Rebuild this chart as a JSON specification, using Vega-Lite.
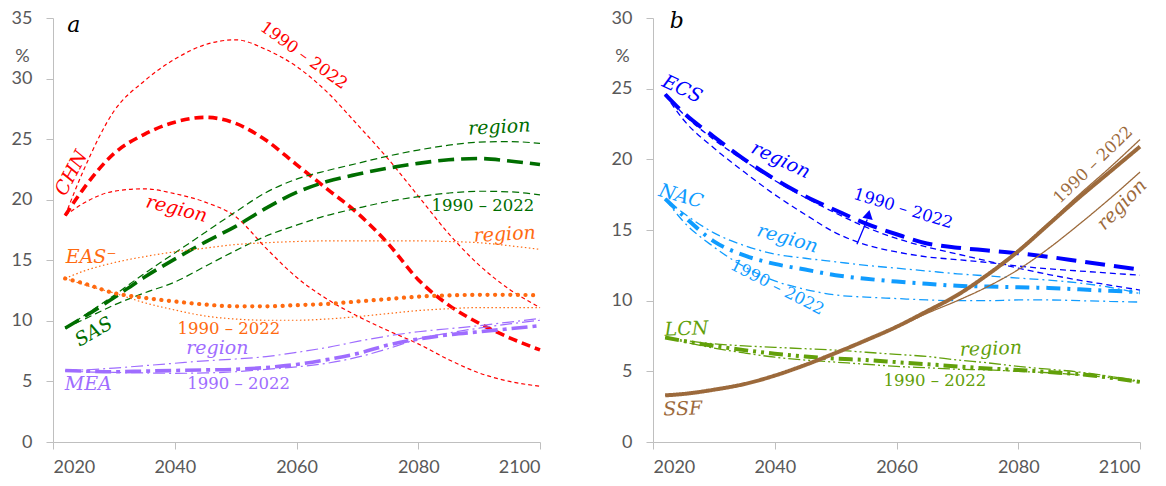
{
"$schema": "https://vega.github.io/schema/vega-lite/v6.json",
"padding": {"left": 11, "top": 9, "right": 0, "bottom": 0},
"bounds": "flush",
"spacing": 113,
"background": "white",
"config": {
  "view": {"stroke": null},
  "axis": {"domainColor": "#bfbfbf", "tickColor": "#bfbfbf", "tickSize": 7, "labelColor": "#595959", "labelFont": "Lato", "labelFontSize": 18, "grid": false, "titleFont": "Lato", "titleFontSize": 18, "titleFontWeight": "normal", "titleColor": "#595959"},
  "axisX": {"labelPadding": 9},
  "axisY": {"labelPadding": 14}
},
"resolve": {"scale": {"color": "independent", "strokeDash": "independent", "strokeWidth": "independent", "x": "independent", "y": "independent"}},
"datasets": {
"A": [
{"r":"CHN","v":"main","s":"CHN main","x":2022,"y":18.7},{"r":"CHN","v":"main","s":"CHN main","x":2025,"y":20.9},{"r":"CHN","v":"main","s":"CHN main","x":2030,"y":23.8},{"r":"CHN","v":"main","s":"CHN main","x":2035,"y":25.4},{"r":"CHN","v":"main","s":"CHN main","x":2040,"y":26.4},{"r":"CHN","v":"main","s":"CHN main","x":2045,"y":26.8},{"r":"CHN","v":"main","s":"CHN main","x":2050,"y":26.3},{"r":"CHN","v":"main","s":"CHN main","x":2055,"y":24.9},{"r":"CHN","v":"main","s":"CHN main","x":2060,"y":22.9},{"r":"CHN","v":"main","s":"CHN main","x":2065,"y":20.9},{"r":"CHN","v":"main","s":"CHN main","x":2070,"y":18.9},{"r":"CHN","v":"main","s":"CHN main","x":2075,"y":16.4},{"r":"CHN","v":"main","s":"CHN main","x":2080,"y":13.4},{"r":"CHN","v":"main","s":"CHN main","x":2085,"y":11.3},{"r":"CHN","v":"main","s":"CHN main","x":2090,"y":9.8},{"r":"CHN","v":"main","s":"CHN main","x":2095,"y":8.6},{"r":"CHN","v":"main","s":"CHN main","x":2100,"y":7.6},
{"r":"CHN","v":"region","s":"CHN region","x":2022,"y":18.7},{"r":"CHN","v":"region","s":"CHN region","x":2025,"y":19.7},{"r":"CHN","v":"region","s":"CHN region","x":2030,"y":20.7},{"r":"CHN","v":"region","s":"CHN region","x":2035,"y":20.9},{"r":"CHN","v":"region","s":"CHN region","x":2040,"y":20.5},{"r":"CHN","v":"region","s":"CHN region","x":2045,"y":19.8},{"r":"CHN","v":"region","s":"CHN region","x":2050,"y":18.6},{"r":"CHN","v":"region","s":"CHN region","x":2055,"y":16.0},{"r":"CHN","v":"region","s":"CHN region","x":2060,"y":13.6},{"r":"CHN","v":"region","s":"CHN region","x":2065,"y":11.8},{"r":"CHN","v":"region","s":"CHN region","x":2070,"y":10.4},{"r":"CHN","v":"region","s":"CHN region","x":2075,"y":9.2},{"r":"CHN","v":"region","s":"CHN region","x":2080,"y":8.1},{"r":"CHN","v":"region","s":"CHN region","x":2085,"y":6.8},{"r":"CHN","v":"region","s":"CHN region","x":2090,"y":5.7},{"r":"CHN","v":"region","s":"CHN region","x":2095,"y":5.0},{"r":"CHN","v":"region","s":"CHN region","x":2100,"y":4.6},
{"r":"CHN","v":"hist","s":"CHN hist","x":2022,"y":18.7},{"r":"CHN","v":"hist","s":"CHN hist","x":2025,"y":22.4},{"r":"CHN","v":"hist","s":"CHN hist","x":2030,"y":27.3},{"r":"CHN","v":"hist","s":"CHN hist","x":2035,"y":29.8},{"r":"CHN","v":"hist","s":"CHN hist","x":2040,"y":31.6},{"r":"CHN","v":"hist","s":"CHN hist","x":2045,"y":32.8},{"r":"CHN","v":"hist","s":"CHN hist","x":2050,"y":33.2},{"r":"CHN","v":"hist","s":"CHN hist","x":2055,"y":32.4},{"r":"CHN","v":"hist","s":"CHN hist","x":2060,"y":31.0},{"r":"CHN","v":"hist","s":"CHN hist","x":2065,"y":28.9},{"r":"CHN","v":"hist","s":"CHN hist","x":2070,"y":26.2},{"r":"CHN","v":"hist","s":"CHN hist","x":2075,"y":23.4},{"r":"CHN","v":"hist","s":"CHN hist","x":2080,"y":20.3},{"r":"CHN","v":"hist","s":"CHN hist","x":2085,"y":17.2},{"r":"CHN","v":"hist","s":"CHN hist","x":2090,"y":14.6},{"r":"CHN","v":"hist","s":"CHN hist","x":2095,"y":12.6},{"r":"CHN","v":"hist","s":"CHN hist","x":2100,"y":11.1},
{"r":"SAS","v":"main","s":"SAS main","x":2022,"y":9.4},{"r":"SAS","v":"main","s":"SAS main","x":2025,"y":10.3},{"r":"SAS","v":"main","s":"SAS main","x":2030,"y":11.9},{"r":"SAS","v":"main","s":"SAS main","x":2035,"y":13.6},{"r":"SAS","v":"main","s":"SAS main","x":2040,"y":15.1},{"r":"SAS","v":"main","s":"SAS main","x":2045,"y":16.5},{"r":"SAS","v":"main","s":"SAS main","x":2050,"y":17.8},{"r":"SAS","v":"main","s":"SAS main","x":2055,"y":19.3},{"r":"SAS","v":"main","s":"SAS main","x":2060,"y":20.6},{"r":"SAS","v":"main","s":"SAS main","x":2065,"y":21.5},{"r":"SAS","v":"main","s":"SAS main","x":2070,"y":22.1},{"r":"SAS","v":"main","s":"SAS main","x":2075,"y":22.6},{"r":"SAS","v":"main","s":"SAS main","x":2080,"y":23.0},{"r":"SAS","v":"main","s":"SAS main","x":2085,"y":23.3},{"r":"SAS","v":"main","s":"SAS main","x":2090,"y":23.4},{"r":"SAS","v":"main","s":"SAS main","x":2095,"y":23.2},{"r":"SAS","v":"main","s":"SAS main","x":2100,"y":22.9},
{"r":"SAS","v":"region","s":"SAS region","x":2022,"y":9.4},{"r":"SAS","v":"region","s":"SAS region","x":2025,"y":10.4},{"r":"SAS","v":"region","s":"SAS region","x":2030,"y":12.1},{"r":"SAS","v":"region","s":"SAS region","x":2035,"y":13.9},{"r":"SAS","v":"region","s":"SAS region","x":2040,"y":15.6},{"r":"SAS","v":"region","s":"SAS region","x":2045,"y":17.3},{"r":"SAS","v":"region","s":"SAS region","x":2050,"y":19.0},{"r":"SAS","v":"region","s":"SAS region","x":2055,"y":20.6},{"r":"SAS","v":"region","s":"SAS region","x":2060,"y":21.7},{"r":"SAS","v":"region","s":"SAS region","x":2065,"y":22.4},{"r":"SAS","v":"region","s":"SAS region","x":2070,"y":23.0},{"r":"SAS","v":"region","s":"SAS region","x":2075,"y":23.6},{"r":"SAS","v":"region","s":"SAS region","x":2080,"y":24.1},{"r":"SAS","v":"region","s":"SAS region","x":2085,"y":24.5},{"r":"SAS","v":"region","s":"SAS region","x":2090,"y":24.75},{"r":"SAS","v":"region","s":"SAS region","x":2095,"y":24.8},{"r":"SAS","v":"region","s":"SAS region","x":2100,"y":24.65},
{"r":"SAS","v":"hist","s":"SAS hist","x":2022,"y":9.4},{"r":"SAS","v":"hist","s":"SAS hist","x":2025,"y":10.1},{"r":"SAS","v":"hist","s":"SAS hist","x":2030,"y":11.3},{"r":"SAS","v":"hist","s":"SAS hist","x":2035,"y":12.3},{"r":"SAS","v":"hist","s":"SAS hist","x":2040,"y":13.2},{"r":"SAS","v":"hist","s":"SAS hist","x":2045,"y":14.5},{"r":"SAS","v":"hist","s":"SAS hist","x":2050,"y":15.8},{"r":"SAS","v":"hist","s":"SAS hist","x":2055,"y":17.0},{"r":"SAS","v":"hist","s":"SAS hist","x":2060,"y":17.9},{"r":"SAS","v":"hist","s":"SAS hist","x":2065,"y":18.7},{"r":"SAS","v":"hist","s":"SAS hist","x":2070,"y":19.3},{"r":"SAS","v":"hist","s":"SAS hist","x":2075,"y":19.85},{"r":"SAS","v":"hist","s":"SAS hist","x":2080,"y":20.25},{"r":"SAS","v":"hist","s":"SAS hist","x":2085,"y":20.55},{"r":"SAS","v":"hist","s":"SAS hist","x":2090,"y":20.7},{"r":"SAS","v":"hist","s":"SAS hist","x":2095,"y":20.65},{"r":"SAS","v":"hist","s":"SAS hist","x":2100,"y":20.4},
{"r":"EAS","v":"main","s":"EAS main","x":2022,"y":13.5},{"r":"EAS","v":"main","s":"EAS main","x":2025,"y":13.1},{"r":"EAS","v":"main","s":"EAS main","x":2030,"y":12.3},{"r":"EAS","v":"main","s":"EAS main","x":2035,"y":11.9},{"r":"EAS","v":"main","s":"EAS main","x":2040,"y":11.6},{"r":"EAS","v":"main","s":"EAS main","x":2045,"y":11.35},{"r":"EAS","v":"main","s":"EAS main","x":2050,"y":11.2},{"r":"EAS","v":"main","s":"EAS main","x":2055,"y":11.2},{"r":"EAS","v":"main","s":"EAS main","x":2060,"y":11.3},{"r":"EAS","v":"main","s":"EAS main","x":2065,"y":11.4},{"r":"EAS","v":"main","s":"EAS main","x":2070,"y":11.6},{"r":"EAS","v":"main","s":"EAS main","x":2075,"y":11.8},{"r":"EAS","v":"main","s":"EAS main","x":2080,"y":12.0},{"r":"EAS","v":"main","s":"EAS main","x":2085,"y":12.1},{"r":"EAS","v":"main","s":"EAS main","x":2090,"y":12.15},{"r":"EAS","v":"main","s":"EAS main","x":2095,"y":12.15},{"r":"EAS","v":"main","s":"EAS main","x":2100,"y":12.1},
{"r":"EAS","v":"region","s":"EAS region","x":2022,"y":13.5},{"r":"EAS","v":"region","s":"EAS region","x":2025,"y":14.1},{"r":"EAS","v":"region","s":"EAS region","x":2030,"y":14.8},{"r":"EAS","v":"region","s":"EAS region","x":2035,"y":15.3},{"r":"EAS","v":"region","s":"EAS region","x":2040,"y":15.7},{"r":"EAS","v":"region","s":"EAS region","x":2045,"y":16.0},{"r":"EAS","v":"region","s":"EAS region","x":2050,"y":16.3},{"r":"EAS","v":"region","s":"EAS region","x":2055,"y":16.45},{"r":"EAS","v":"region","s":"EAS region","x":2060,"y":16.55},{"r":"EAS","v":"region","s":"EAS region","x":2065,"y":16.6},{"r":"EAS","v":"region","s":"EAS region","x":2070,"y":16.6},{"r":"EAS","v":"region","s":"EAS region","x":2075,"y":16.6},{"r":"EAS","v":"region","s":"EAS region","x":2080,"y":16.6},{"r":"EAS","v":"region","s":"EAS region","x":2085,"y":16.55},{"r":"EAS","v":"region","s":"EAS region","x":2090,"y":16.45},{"r":"EAS","v":"region","s":"EAS region","x":2095,"y":16.2},{"r":"EAS","v":"region","s":"EAS region","x":2100,"y":15.9},
{"r":"EAS","v":"hist","s":"EAS hist","x":2022,"y":13.5},{"r":"EAS","v":"hist","s":"EAS hist","x":2025,"y":13.0},{"r":"EAS","v":"hist","s":"EAS hist","x":2030,"y":12.3},{"r":"EAS","v":"hist","s":"EAS hist","x":2035,"y":11.5},{"r":"EAS","v":"hist","s":"EAS hist","x":2040,"y":10.9},{"r":"EAS","v":"hist","s":"EAS hist","x":2045,"y":10.4},{"r":"EAS","v":"hist","s":"EAS hist","x":2050,"y":10.15},{"r":"EAS","v":"hist","s":"EAS hist","x":2055,"y":10.05},{"r":"EAS","v":"hist","s":"EAS hist","x":2060,"y":10.05},{"r":"EAS","v":"hist","s":"EAS hist","x":2065,"y":10.15},{"r":"EAS","v":"hist","s":"EAS hist","x":2070,"y":10.35},{"r":"EAS","v":"hist","s":"EAS hist","x":2075,"y":10.6},{"r":"EAS","v":"hist","s":"EAS hist","x":2080,"y":10.85},{"r":"EAS","v":"hist","s":"EAS hist","x":2085,"y":11.0},{"r":"EAS","v":"hist","s":"EAS hist","x":2090,"y":11.1},{"r":"EAS","v":"hist","s":"EAS hist","x":2095,"y":11.1},{"r":"EAS","v":"hist","s":"EAS hist","x":2100,"y":11.1},
{"r":"MEA","v":"main","s":"MEA main","x":2022,"y":5.9},{"r":"MEA","v":"main","s":"MEA main","x":2025,"y":5.85},{"r":"MEA","v":"main","s":"MEA main","x":2030,"y":5.8},{"r":"MEA","v":"main","s":"MEA main","x":2035,"y":5.85},{"r":"MEA","v":"main","s":"MEA main","x":2040,"y":5.9},{"r":"MEA","v":"main","s":"MEA main","x":2045,"y":5.95},{"r":"MEA","v":"main","s":"MEA main","x":2050,"y":6.0},{"r":"MEA","v":"main","s":"MEA main","x":2055,"y":6.15},{"r":"MEA","v":"main","s":"MEA main","x":2060,"y":6.4},{"r":"MEA","v":"main","s":"MEA main","x":2065,"y":6.8},{"r":"MEA","v":"main","s":"MEA main","x":2070,"y":7.3},{"r":"MEA","v":"main","s":"MEA main","x":2075,"y":8.0},{"r":"MEA","v":"main","s":"MEA main","x":2080,"y":8.5},{"r":"MEA","v":"main","s":"MEA main","x":2085,"y":8.85},{"r":"MEA","v":"main","s":"MEA main","x":2090,"y":9.1},{"r":"MEA","v":"main","s":"MEA main","x":2095,"y":9.35},{"r":"MEA","v":"main","s":"MEA main","x":2100,"y":9.6},
{"r":"MEA","v":"region","s":"MEA region","x":2022,"y":5.9},{"r":"MEA","v":"region","s":"MEA region","x":2025,"y":5.95},{"r":"MEA","v":"region","s":"MEA region","x":2030,"y":6.1},{"r":"MEA","v":"region","s":"MEA region","x":2035,"y":6.3},{"r":"MEA","v":"region","s":"MEA region","x":2040,"y":6.5},{"r":"MEA","v":"region","s":"MEA region","x":2045,"y":6.7},{"r":"MEA","v":"region","s":"MEA region","x":2050,"y":6.85},{"r":"MEA","v":"region","s":"MEA region","x":2055,"y":7.05},{"r":"MEA","v":"region","s":"MEA region","x":2060,"y":7.4},{"r":"MEA","v":"region","s":"MEA region","x":2065,"y":7.8},{"r":"MEA","v":"region","s":"MEA region","x":2070,"y":8.3},{"r":"MEA","v":"region","s":"MEA region","x":2075,"y":8.75},{"r":"MEA","v":"region","s":"MEA region","x":2080,"y":9.1},{"r":"MEA","v":"region","s":"MEA region","x":2085,"y":9.35},{"r":"MEA","v":"region","s":"MEA region","x":2090,"y":9.6},{"r":"MEA","v":"region","s":"MEA region","x":2095,"y":9.9},{"r":"MEA","v":"region","s":"MEA region","x":2100,"y":10.2},
{"r":"MEA","v":"hist","s":"MEA hist","x":2022,"y":5.9},{"r":"MEA","v":"hist","s":"MEA hist","x":2025,"y":5.8},{"r":"MEA","v":"hist","s":"MEA hist","x":2030,"y":5.75},{"r":"MEA","v":"hist","s":"MEA hist","x":2035,"y":5.7},{"r":"MEA","v":"hist","s":"MEA hist","x":2040,"y":5.67},{"r":"MEA","v":"hist","s":"MEA hist","x":2045,"y":5.7},{"r":"MEA","v":"hist","s":"MEA hist","x":2050,"y":5.8},{"r":"MEA","v":"hist","s":"MEA hist","x":2055,"y":6.0},{"r":"MEA","v":"hist","s":"MEA hist","x":2060,"y":6.2},{"r":"MEA","v":"hist","s":"MEA hist","x":2065,"y":6.5},{"r":"MEA","v":"hist","s":"MEA hist","x":2070,"y":7.0},{"r":"MEA","v":"hist","s":"MEA hist","x":2075,"y":7.7},{"r":"MEA","v":"hist","s":"MEA hist","x":2080,"y":8.5},{"r":"MEA","v":"hist","s":"MEA hist","x":2085,"y":9.0},{"r":"MEA","v":"hist","s":"MEA hist","x":2090,"y":9.4},{"r":"MEA","v":"hist","s":"MEA hist","x":2095,"y":9.75},{"r":"MEA","v":"hist","s":"MEA hist","x":2100,"y":10.05}
],
"B": [
{"r":"ECS","v":"main","s":"ECS main","x":2022,"y":24.6},{"r":"ECS","v":"main","s":"ECS main","x":2025,"y":23.3},{"r":"ECS","v":"main","s":"ECS main","x":2030,"y":21.6},{"r":"ECS","v":"main","s":"ECS main","x":2035,"y":20.0},{"r":"ECS","v":"main","s":"ECS main","x":2040,"y":18.6},{"r":"ECS","v":"main","s":"ECS main","x":2045,"y":17.4},{"r":"ECS","v":"main","s":"ECS main","x":2050,"y":16.4},{"r":"ECS","v":"main","s":"ECS main","x":2055,"y":15.45},{"r":"ECS","v":"main","s":"ECS main","x":2060,"y":14.7},{"r":"ECS","v":"main","s":"ECS main","x":2065,"y":14.05},{"r":"ECS","v":"main","s":"ECS main","x":2070,"y":13.75},{"r":"ECS","v":"main","s":"ECS main","x":2075,"y":13.55},{"r":"ECS","v":"main","s":"ECS main","x":2080,"y":13.35},{"r":"ECS","v":"main","s":"ECS main","x":2085,"y":13.1},{"r":"ECS","v":"main","s":"ECS main","x":2090,"y":12.8},{"r":"ECS","v":"main","s":"ECS main","x":2095,"y":12.5},{"r":"ECS","v":"main","s":"ECS main","x":2100,"y":12.2},
{"r":"ECS","v":"region","s":"ECS region","x":2022,"y":24.6},{"r":"ECS","v":"region","s":"ECS region","x":2025,"y":23.2},{"r":"ECS","v":"region","s":"ECS region","x":2030,"y":21.4},{"r":"ECS","v":"region","s":"ECS region","x":2035,"y":19.9},{"r":"ECS","v":"region","s":"ECS region","x":2040,"y":18.5},{"r":"ECS","v":"region","s":"ECS region","x":2045,"y":17.3},{"r":"ECS","v":"region","s":"ECS region","x":2050,"y":16.2},{"r":"ECS","v":"region","s":"ECS region","x":2055,"y":15.2},{"r":"ECS","v":"region","s":"ECS region","x":2060,"y":14.4},{"r":"ECS","v":"region","s":"ECS region","x":2065,"y":13.8},{"r":"ECS","v":"region","s":"ECS region","x":2070,"y":13.3},{"r":"ECS","v":"region","s":"ECS region","x":2075,"y":12.8},{"r":"ECS","v":"region","s":"ECS region","x":2080,"y":12.3},{"r":"ECS","v":"region","s":"ECS region","x":2085,"y":11.85},{"r":"ECS","v":"region","s":"ECS region","x":2090,"y":11.45},{"r":"ECS","v":"region","s":"ECS region","x":2095,"y":11.1},{"r":"ECS","v":"region","s":"ECS region","x":2100,"y":10.75},
{"r":"ECS","v":"hist","s":"ECS hist","x":2022,"y":24.6},{"r":"ECS","v":"hist","s":"ECS hist","x":2025,"y":22.8},{"r":"ECS","v":"hist","s":"ECS hist","x":2030,"y":20.8},{"r":"ECS","v":"hist","s":"ECS hist","x":2035,"y":19.1},{"r":"ECS","v":"hist","s":"ECS hist","x":2040,"y":17.5},{"r":"ECS","v":"hist","s":"ECS hist","x":2045,"y":16.1},{"r":"ECS","v":"hist","s":"ECS hist","x":2050,"y":14.8},{"r":"ECS","v":"hist","s":"ECS hist","x":2055,"y":13.95},{"r":"ECS","v":"hist","s":"ECS hist","x":2060,"y":13.45},{"r":"ECS","v":"hist","s":"ECS hist","x":2065,"y":13.1},{"r":"ECS","v":"hist","s":"ECS hist","x":2070,"y":12.9},{"r":"ECS","v":"hist","s":"ECS hist","x":2075,"y":12.7},{"r":"ECS","v":"hist","s":"ECS hist","x":2080,"y":12.45},{"r":"ECS","v":"hist","s":"ECS hist","x":2085,"y":12.25},{"r":"ECS","v":"hist","s":"ECS hist","x":2090,"y":12.1},{"r":"ECS","v":"hist","s":"ECS hist","x":2095,"y":11.95},{"r":"ECS","v":"hist","s":"ECS hist","x":2100,"y":11.8},
{"r":"NAC","v":"main","s":"NAC main","x":2022,"y":17.2},{"r":"NAC","v":"main","s":"NAC main","x":2025,"y":16.0},{"r":"NAC","v":"main","s":"NAC main","x":2030,"y":14.2},{"r":"NAC","v":"main","s":"NAC main","x":2035,"y":13.2},{"r":"NAC","v":"main","s":"NAC main","x":2040,"y":12.6},{"r":"NAC","v":"main","s":"NAC main","x":2045,"y":12.2},{"r":"NAC","v":"main","s":"NAC main","x":2050,"y":11.8},{"r":"NAC","v":"main","s":"NAC main","x":2055,"y":11.55},{"r":"NAC","v":"main","s":"NAC main","x":2060,"y":11.35},{"r":"NAC","v":"main","s":"NAC main","x":2065,"y":11.2},{"r":"NAC","v":"main","s":"NAC main","x":2070,"y":11.05},{"r":"NAC","v":"main","s":"NAC main","x":2075,"y":11.0},{"r":"NAC","v":"main","s":"NAC main","x":2080,"y":10.95},{"r":"NAC","v":"main","s":"NAC main","x":2085,"y":10.9},{"r":"NAC","v":"main","s":"NAC main","x":2090,"y":10.8},{"r":"NAC","v":"main","s":"NAC main","x":2095,"y":10.7},{"r":"NAC","v":"main","s":"NAC main","x":2100,"y":10.6},
{"r":"NAC","v":"region","s":"NAC region","x":2022,"y":17.2},{"r":"NAC","v":"region","s":"NAC region","x":2025,"y":16.2},{"r":"NAC","v":"region","s":"NAC region","x":2030,"y":14.8},{"r":"NAC","v":"region","s":"NAC region","x":2035,"y":13.9},{"r":"NAC","v":"region","s":"NAC region","x":2040,"y":13.3},{"r":"NAC","v":"region","s":"NAC region","x":2045,"y":13.0},{"r":"NAC","v":"region","s":"NAC region","x":2050,"y":12.75},{"r":"NAC","v":"region","s":"NAC region","x":2055,"y":12.5},{"r":"NAC","v":"region","s":"NAC region","x":2060,"y":12.3},{"r":"NAC","v":"region","s":"NAC region","x":2065,"y":12.1},{"r":"NAC","v":"region","s":"NAC region","x":2070,"y":11.9},{"r":"NAC","v":"region","s":"NAC region","x":2075,"y":11.75},{"r":"NAC","v":"region","s":"NAC region","x":2080,"y":11.6},{"r":"NAC","v":"region","s":"NAC region","x":2085,"y":11.45},{"r":"NAC","v":"region","s":"NAC region","x":2090,"y":11.25},{"r":"NAC","v":"region","s":"NAC region","x":2095,"y":10.95},{"r":"NAC","v":"region","s":"NAC region","x":2100,"y":10.5},
{"r":"NAC","v":"hist","s":"NAC hist","x":2022,"y":17.2},{"r":"NAC","v":"hist","s":"NAC hist","x":2025,"y":15.6},{"r":"NAC","v":"hist","s":"NAC hist","x":2030,"y":13.8},{"r":"NAC","v":"hist","s":"NAC hist","x":2035,"y":12.4},{"r":"NAC","v":"hist","s":"NAC hist","x":2040,"y":11.4},{"r":"NAC","v":"hist","s":"NAC hist","x":2045,"y":10.8},{"r":"NAC","v":"hist","s":"NAC hist","x":2050,"y":10.4},{"r":"NAC","v":"hist","s":"NAC hist","x":2055,"y":10.25},{"r":"NAC","v":"hist","s":"NAC hist","x":2060,"y":10.15},{"r":"NAC","v":"hist","s":"NAC hist","x":2065,"y":10.05},{"r":"NAC","v":"hist","s":"NAC hist","x":2070,"y":10.0},{"r":"NAC","v":"hist","s":"NAC hist","x":2075,"y":10.0},{"r":"NAC","v":"hist","s":"NAC hist","x":2080,"y":10.05},{"r":"NAC","v":"hist","s":"NAC hist","x":2085,"y":10.05},{"r":"NAC","v":"hist","s":"NAC hist","x":2090,"y":10.0},{"r":"NAC","v":"hist","s":"NAC hist","x":2095,"y":9.95},{"r":"NAC","v":"hist","s":"NAC hist","x":2100,"y":9.9},
{"r":"LCN","v":"main","s":"LCN main","x":2022,"y":7.4},{"r":"LCN","v":"main","s":"LCN main","x":2025,"y":7.15},{"r":"LCN","v":"main","s":"LCN main","x":2030,"y":6.8},{"r":"LCN","v":"main","s":"LCN main","x":2035,"y":6.5},{"r":"LCN","v":"main","s":"LCN main","x":2040,"y":6.25},{"r":"LCN","v":"main","s":"LCN main","x":2045,"y":6.05},{"r":"LCN","v":"main","s":"LCN main","x":2050,"y":5.9},{"r":"LCN","v":"main","s":"LCN main","x":2055,"y":5.8},{"r":"LCN","v":"main","s":"LCN main","x":2060,"y":5.65},{"r":"LCN","v":"main","s":"LCN main","x":2065,"y":5.5},{"r":"LCN","v":"main","s":"LCN main","x":2070,"y":5.35},{"r":"LCN","v":"main","s":"LCN main","x":2075,"y":5.2},{"r":"LCN","v":"main","s":"LCN main","x":2080,"y":5.1},{"r":"LCN","v":"main","s":"LCN main","x":2085,"y":4.95},{"r":"LCN","v":"main","s":"LCN main","x":2090,"y":4.8},{"r":"LCN","v":"main","s":"LCN main","x":2095,"y":4.55},{"r":"LCN","v":"main","s":"LCN main","x":2100,"y":4.25},
{"r":"LCN","v":"region","s":"LCN region","x":2022,"y":7.4},{"r":"LCN","v":"region","s":"LCN region","x":2025,"y":7.2},{"r":"LCN","v":"region","s":"LCN region","x":2030,"y":6.95},{"r":"LCN","v":"region","s":"LCN region","x":2035,"y":6.8},{"r":"LCN","v":"region","s":"LCN region","x":2040,"y":6.7},{"r":"LCN","v":"region","s":"LCN region","x":2045,"y":6.6},{"r":"LCN","v":"region","s":"LCN region","x":2050,"y":6.5},{"r":"LCN","v":"region","s":"LCN region","x":2055,"y":6.35},{"r":"LCN","v":"region","s":"LCN region","x":2060,"y":6.2},{"r":"LCN","v":"region","s":"LCN region","x":2065,"y":6.05},{"r":"LCN","v":"region","s":"LCN region","x":2070,"y":5.8},{"r":"LCN","v":"region","s":"LCN region","x":2075,"y":5.6},{"r":"LCN","v":"region","s":"LCN region","x":2080,"y":5.35},{"r":"LCN","v":"region","s":"LCN region","x":2085,"y":5.15},{"r":"LCN","v":"region","s":"LCN region","x":2090,"y":4.95},{"r":"LCN","v":"region","s":"LCN region","x":2095,"y":4.65},{"r":"LCN","v":"region","s":"LCN region","x":2100,"y":4.3},
{"r":"LCN","v":"hist","s":"LCN hist","x":2022,"y":7.4},{"r":"LCN","v":"hist","s":"LCN hist","x":2025,"y":7.1},{"r":"LCN","v":"hist","s":"LCN hist","x":2030,"y":6.65},{"r":"LCN","v":"hist","s":"LCN hist","x":2035,"y":6.3},{"r":"LCN","v":"hist","s":"LCN hist","x":2040,"y":6.0},{"r":"LCN","v":"hist","s":"LCN hist","x":2045,"y":5.8},{"r":"LCN","v":"hist","s":"LCN hist","x":2050,"y":5.65},{"r":"LCN","v":"hist","s":"LCN hist","x":2055,"y":5.5},{"r":"LCN","v":"hist","s":"LCN hist","x":2060,"y":5.35},{"r":"LCN","v":"hist","s":"LCN hist","x":2065,"y":5.25},{"r":"LCN","v":"hist","s":"LCN hist","x":2070,"y":5.15},{"r":"LCN","v":"hist","s":"LCN hist","x":2075,"y":5.1},{"r":"LCN","v":"hist","s":"LCN hist","x":2080,"y":5.0},{"r":"LCN","v":"hist","s":"LCN hist","x":2085,"y":4.9},{"r":"LCN","v":"hist","s":"LCN hist","x":2090,"y":4.75},{"r":"LCN","v":"hist","s":"LCN hist","x":2095,"y":4.55},{"r":"LCN","v":"hist","s":"LCN hist","x":2100,"y":4.25},
{"r":"SSF","v":"main","s":"SSF main","x":2022,"y":3.3},{"r":"SSF","v":"main","s":"SSF main","x":2025,"y":3.4},{"r":"SSF","v":"main","s":"SSF main","x":2030,"y":3.7},{"r":"SSF","v":"main","s":"SSF main","x":2035,"y":4.1},{"r":"SSF","v":"main","s":"SSF main","x":2040,"y":4.7},{"r":"SSF","v":"main","s":"SSF main","x":2045,"y":5.45},{"r":"SSF","v":"main","s":"SSF main","x":2050,"y":6.3},{"r":"SSF","v":"main","s":"SSF main","x":2055,"y":7.2},{"r":"SSF","v":"main","s":"SSF main","x":2060,"y":8.15},{"r":"SSF","v":"main","s":"SSF main","x":2065,"y":9.25},{"r":"SSF","v":"main","s":"SSF main","x":2070,"y":10.4},{"r":"SSF","v":"main","s":"SSF main","x":2075,"y":11.85},{"r":"SSF","v":"main","s":"SSF main","x":2080,"y":13.5},{"r":"SSF","v":"main","s":"SSF main","x":2085,"y":15.4},{"r":"SSF","v":"main","s":"SSF main","x":2090,"y":17.3},{"r":"SSF","v":"main","s":"SSF main","x":2095,"y":19.1},{"r":"SSF","v":"main","s":"SSF main","x":2100,"y":20.9},
{"r":"SSF","v":"region","s":"SSF region","x":2022,"y":3.3},{"r":"SSF","v":"region","s":"SSF region","x":2025,"y":3.4},{"r":"SSF","v":"region","s":"SSF region","x":2030,"y":3.7},{"r":"SSF","v":"region","s":"SSF region","x":2035,"y":4.1},{"r":"SSF","v":"region","s":"SSF region","x":2040,"y":4.7},{"r":"SSF","v":"region","s":"SSF region","x":2045,"y":5.45},{"r":"SSF","v":"region","s":"SSF region","x":2050,"y":6.3},{"r":"SSF","v":"region","s":"SSF region","x":2055,"y":7.2},{"r":"SSF","v":"region","s":"SSF region","x":2060,"y":8.1},{"r":"SSF","v":"region","s":"SSF region","x":2065,"y":9.1},{"r":"SSF","v":"region","s":"SSF region","x":2070,"y":10.0},{"r":"SSF","v":"region","s":"SSF region","x":2075,"y":11.0},{"r":"SSF","v":"region","s":"SSF region","x":2080,"y":12.2},{"r":"SSF","v":"region","s":"SSF region","x":2085,"y":13.7},{"r":"SSF","v":"region","s":"SSF region","x":2090,"y":15.4},{"r":"SSF","v":"region","s":"SSF region","x":2095,"y":17.2},{"r":"SSF","v":"region","s":"SSF region","x":2100,"y":19.1},
{"r":"SSF","v":"hist","s":"SSF hist","x":2022,"y":3.3},{"r":"SSF","v":"hist","s":"SSF hist","x":2025,"y":3.4},{"r":"SSF","v":"hist","s":"SSF hist","x":2030,"y":3.7},{"r":"SSF","v":"hist","s":"SSF hist","x":2035,"y":4.1},{"r":"SSF","v":"hist","s":"SSF hist","x":2040,"y":4.7},{"r":"SSF","v":"hist","s":"SSF hist","x":2045,"y":5.45},{"r":"SSF","v":"hist","s":"SSF hist","x":2050,"y":6.3},{"r":"SSF","v":"hist","s":"SSF hist","x":2055,"y":7.2},{"r":"SSF","v":"hist","s":"SSF hist","x":2060,"y":8.15},{"r":"SSF","v":"hist","s":"SSF hist","x":2065,"y":9.25},{"r":"SSF","v":"hist","s":"SSF hist","x":2070,"y":10.45},{"r":"SSF","v":"hist","s":"SSF hist","x":2075,"y":11.9},{"r":"SSF","v":"hist","s":"SSF hist","x":2080,"y":13.6},{"r":"SSF","v":"hist","s":"SSF hist","x":2085,"y":15.5},{"r":"SSF","v":"hist","s":"SSF hist","x":2090,"y":17.5},{"r":"SSF","v":"hist","s":"SSF hist","x":2095,"y":19.4},{"r":"SSF","v":"hist","s":"SSF hist","x":2100,"y":21.4}
],
"LA": [
{"id":1,"t":"a","r":"CHN","x":2023.4,"y":34.4},
{"id":2,"t":"CHN","r":"CHN","x":2023.0,"y":22.2},
{"id":3,"t":"1990 – 2022","r":"CHN","x":2061.2,"y":31.9},
{"id":4,"t":"region","r":"CHN","x":2040.3,"y":19.25},
{"id":5,"t":"region","r":"SAS","x":2093.3,"y":26.0},
{"id":6,"t":"1990 – 2022","r":"SAS","x":2090.6,"y":19.5},
{"id":7,"t":"region","r":"EAS","x":2094.2,"y":17.15},
{"id":8,"t":"EAS⁻","r":"EAS","x":2022.1,"y":15.25},
{"id":9,"t":"SAS","r":"SAS","x":2026.7,"y":9.1},
{"id":10,"t":"1990 – 2022","r":"EAS","x":2048.9,"y":9.3},
{"id":11,"t":"region","r":"MEA","x":2047.0,"y":7.73},
{"id":12,"t":"MEA","r":"MEA","x":2025.8,"y":4.76},
{"id":13,"t":"1990 – 2022","r":"MEA","x":2050.5,"y":4.76}
],
"LB": [
{"id":1,"t":"b","r":"ECS","x":2023.9,"y":29.8},
{"id":2,"t":"ECS","r":"ECS","x":2024.8,"y":24.98},
{"id":3,"t":"region","r":"ECS","x":2041.0,"y":19.95},
{"id":4,"t":"1990 – 2022","r":"ECS","x":2061.1,"y":16.5},
{"id":5,"t":"NAC","r":"NAC","x":2024.6,"y":17.4},
{"id":6,"t":"region","r":"NAC","x":2042.1,"y":14.4},
{"id":7,"t":"1990 – 2022","r":"NAC","x":2040.4,"y":10.94},
{"id":8,"t":"LCN","r":"LCN","x":2025.5,"y":8.0},
{"id":9,"t":"region","r":"LCN","x":2075.5,"y":6.6},
{"id":10,"t":"1990 – 2022","r":"LCN","x":2066.3,"y":4.3},
{"id":11,"t":"SSF","r":"SSF","x":2024.9,"y":2.34},
{"id":12,"t":"1990 – 2022","r":"SSF","x":2092.3,"y":19.6},
{"id":13,"t":"region","r":"SSF","x":2097.0,"y":16.8}
],
"ARR": [
{"r":"ECS","x":2053.5,"y":14.0,"x2":2055.2,"y2":15.75}
],
"HEAD": [
{"r":"ECS","x":2055.4,"y":16.1}
]
},
"hconcat": [
{
"width": 487, "height": 424,
"data": {"name": "A"},
"encoding": {
  "x": {"field":"x","type":"quantitative","scale":{"domain":[2020,2100],"nice":false,"zero":false},"axis":{"values":[2020,2040,2060,2080,2100],"format":"d","title":null}},
  "y": {"field":"y","type":"quantitative","scale":{"domain":[0,35],"nice":false},"axis":{"values":[0,5,10,15,20,25,30,35],"title":"%","titleAngle":0,"titleX":-31,"titleY":38,"titleAlign":"center","titleBaseline":"middle"}},
  "color": {"field":"r","type":"nominal","scale":{"domain":["CHN","SAS","EAS","MEA"],"range":["#ff0000","#006e00","#ff6a10","#9f6dff"]},"legend":null}
},
"layer": [
  {"transform":[{"filter":"datum.s != 'EAS main'"}],
   "mark":{"type":"line","interpolate":"monotone"},
   "encoding":{
     "detail":{"field":"s"},
     "strokeDash":{"field":"s","type":"nominal","legend":null,"scale":{"domain":["CHN main","CHN region","CHN hist","SAS main","SAS region","SAS hist","EAS region","EAS hist","MEA main","MEA region","MEA hist"],"range":[[9,5],[4,3],[4,3],[16,7],[7,4],[7,4],[1.5,2.5],[1.5,2.5],[16,5,4,5],[12,4,2,4],[12,4,2,4]]}},
     "strokeWidth":{"field":"v","type":"nominal","legend":null,"scale":{"type":"ordinal","domain":["main","region","hist"],"range":[3.6,1.2,1.2]}}
   }},
  {"transform":[{"filter":"datum.s == 'EAS main'"}],
   "mark":{"type":"line","interpolate":"monotone","strokeCap":"round","strokeDash":[0.1,7.5],"strokeWidth":4.2}},
  {"data":{"name":"LA"},"transform":[{"filter":"datum.id == 1"}],
   "mark":{"type":"text","font":"DejaVu Serif","fontStyle":"italic","fontSize":22,"align":"center","baseline":"middle"},
   "encoding":{"text":{"field":"t"},"color":{"value":"black"}}},
  {"data":{"name":"LA"},"transform":[{"filter":"datum.id == 2"}],
   "mark":{"type":"text","font":"DejaVu Serif","fontStyle":"italic","fontSize":19,"align":"center","baseline":"middle","angle":-62},
   "encoding":{"text":{"field":"t"}}},
  {"data":{"name":"LA"},"transform":[{"filter":"datum.id == 3"}],
   "mark":{"type":"text","font":"DejaVu Serif","fontSize":16.5,"align":"center","baseline":"middle","angle":36},
   "encoding":{"text":{"field":"t"}}},
  {"data":{"name":"LA"},"transform":[{"filter":"datum.id == 4"}],
   "mark":{"type":"text","font":"DejaVu Serif","fontStyle":"italic","fontSize":19,"align":"center","baseline":"middle","angle":14},
   "encoding":{"text":{"field":"t"}}},
  {"data":{"name":"LA"},"transform":[{"filter":"datum.id == 5 || datum.id == 7"}],
   "mark":{"type":"text","font":"DejaVu Serif","fontStyle":"italic","fontSize":19,"align":"center","baseline":"middle","angle":-3},
   "encoding":{"text":{"field":"t"}}},
  {"data":{"name":"LA"},"transform":[{"filter":"datum.id == 6 || datum.id == 10 || datum.id == 13"}],
   "mark":{"type":"text","font":"DejaVu Serif","fontSize":16.5,"align":"center","baseline":"middle"},
   "encoding":{"text":{"field":"t"}}},
  {"data":{"name":"LA"},"transform":[{"filter":"datum.id == 8"}],
   "mark":{"type":"text","font":"DejaVu Serif","fontStyle":"italic","fontSize":19,"align":"left","baseline":"middle"},
   "encoding":{"text":{"field":"t"}}},
  {"data":{"name":"LA"},"transform":[{"filter":"datum.id == 9"}],
   "mark":{"type":"text","font":"DejaVu Serif","fontStyle":"italic","fontSize":19,"align":"center","baseline":"middle","angle":-30},
   "encoding":{"text":{"field":"t"}}},
  {"data":{"name":"LA"},"transform":[{"filter":"datum.id == 11 || datum.id == 12"}],
   "mark":{"type":"text","font":"DejaVu Serif","fontStyle":"italic","fontSize":19,"align":"center","baseline":"middle"},
   "encoding":{"text":{"field":"t"}}}
]
},
{
"width": 487, "height": 424,
"data": {"name": "B"},
"encoding": {
  "x": {"field":"x","type":"quantitative","scale":{"domain":[2020,2100],"nice":false,"zero":false},"axis":{"values":[2020,2040,2060,2080,2100],"format":"d","title":null}},
  "y": {"field":"y","type":"quantitative","scale":{"domain":[0,30],"nice":false},"axis":{"values":[0,5,10,15,20,25,30],"title":"%","titleAngle":0,"titleX":-31,"titleY":38,"titleAlign":"center","titleBaseline":"middle"}},
  "color": {"field":"r","type":"nominal","scale":{"domain":["ECS","NAC","LCN","SSF"],"range":["#0000ff","#109cff","#62a00a","#9c6a3c"]},"legend":null}
},
"layer": [
  {"mark":{"type":"line","interpolate":"monotone"},
   "encoding":{
     "detail":{"field":"s"},
     "strokeDash":{"field":"s","type":"nominal","legend":null,"scale":{"domain":["ECS main","ECS region","ECS hist","NAC main","NAC region","NAC hist","LCN main","LCN region","LCN hist","SSF main","SSF region","SSF hist"],"range":[[20,9],[6,4],[6,4],[14,7,3,7],[9,4,2,4],[9,4,2,4],[14,5,3,5,3,5],[12,3,2,3,2,3],[12,3,2,3,2,3],[1,0],[1,0],[1,0]]}},
     "strokeWidth":{"field":"v","type":"nominal","legend":null,"scale":{"type":"ordinal","domain":["main","region","hist"],"range":[4,1.3,1.3]}}
   }},
  {"data":{"name":"ARR"},"mark":{"type":"rule","strokeWidth":1.3},"encoding":{"x2":{"field":"x2"},"y2":{"field":"y2"}}},
  {"data":{"name":"HEAD"},"mark":{"type":"point","shape":"triangle-up","filled":true,"opacity":1,"size":110,"angle":12},"encoding":{}},
  {"data":{"name":"LB"},"transform":[{"filter":"datum.id == 1"}],
   "mark":{"type":"text","font":"DejaVu Serif","fontStyle":"italic","fontSize":22,"align":"center","baseline":"middle"},
   "encoding":{"text":{"field":"t"},"color":{"value":"black"}}},
  {"data":{"name":"LB"},"transform":[{"filter":"datum.id == 2 || datum.id == 3"}],
   "mark":{"type":"text","font":"DejaVu Serif","fontStyle":"italic","fontSize":19,"align":"center","baseline":"middle","angle":25},
   "encoding":{"text":{"field":"t"}}},
  {"data":{"name":"LB"},"transform":[{"filter":"datum.id == 4"}],
   "mark":{"type":"text","font":"DejaVu Serif","fontSize":16.5,"align":"center","baseline":"middle","angle":17},
   "encoding":{"text":{"field":"t"}}},
  {"data":{"name":"LB"},"transform":[{"filter":"datum.id == 5 || datum.id == 6"}],
   "mark":{"type":"text","font":"DejaVu Serif","fontStyle":"italic","fontSize":19,"align":"center","baseline":"middle","angle":16},
   "encoding":{"text":{"field":"t"}}},
  {"data":{"name":"LB"},"transform":[{"filter":"datum.id == 7"}],
   "mark":{"type":"text","font":"DejaVu Serif","fontSize":16.5,"align":"center","baseline":"middle","angle":27},
   "encoding":{"text":{"field":"t"}}},
  {"data":{"name":"LB"},"transform":[{"filter":"datum.id == 8 || datum.id == 9 || datum.id == 11"}],
   "mark":{"type":"text","font":"DejaVu Serif","fontStyle":"italic","fontSize":19,"align":"center","baseline":"middle","angle":-2},
   "encoding":{"text":{"field":"t"}}},
  {"data":{"name":"LB"},"transform":[{"filter":"datum.id == 10"}],
   "mark":{"type":"text","font":"DejaVu Serif","fontSize":16.5,"align":"center","baseline":"middle"},
   "encoding":{"text":{"field":"t"}}},
  {"data":{"name":"LB"},"transform":[{"filter":"datum.id == 12"}],
   "mark":{"type":"text","font":"DejaVu Serif","fontSize":16.5,"align":"center","baseline":"middle","angle":-44},
   "encoding":{"text":{"field":"t"}}},
  {"data":{"name":"LB"},"transform":[{"filter":"datum.id == 13"}],
   "mark":{"type":"text","font":"DejaVu Serif","fontStyle":"italic","fontSize":19,"align":"center","baseline":"middle","angle":-46},
   "encoding":{"text":{"field":"t"}}}
]
}
]
}
